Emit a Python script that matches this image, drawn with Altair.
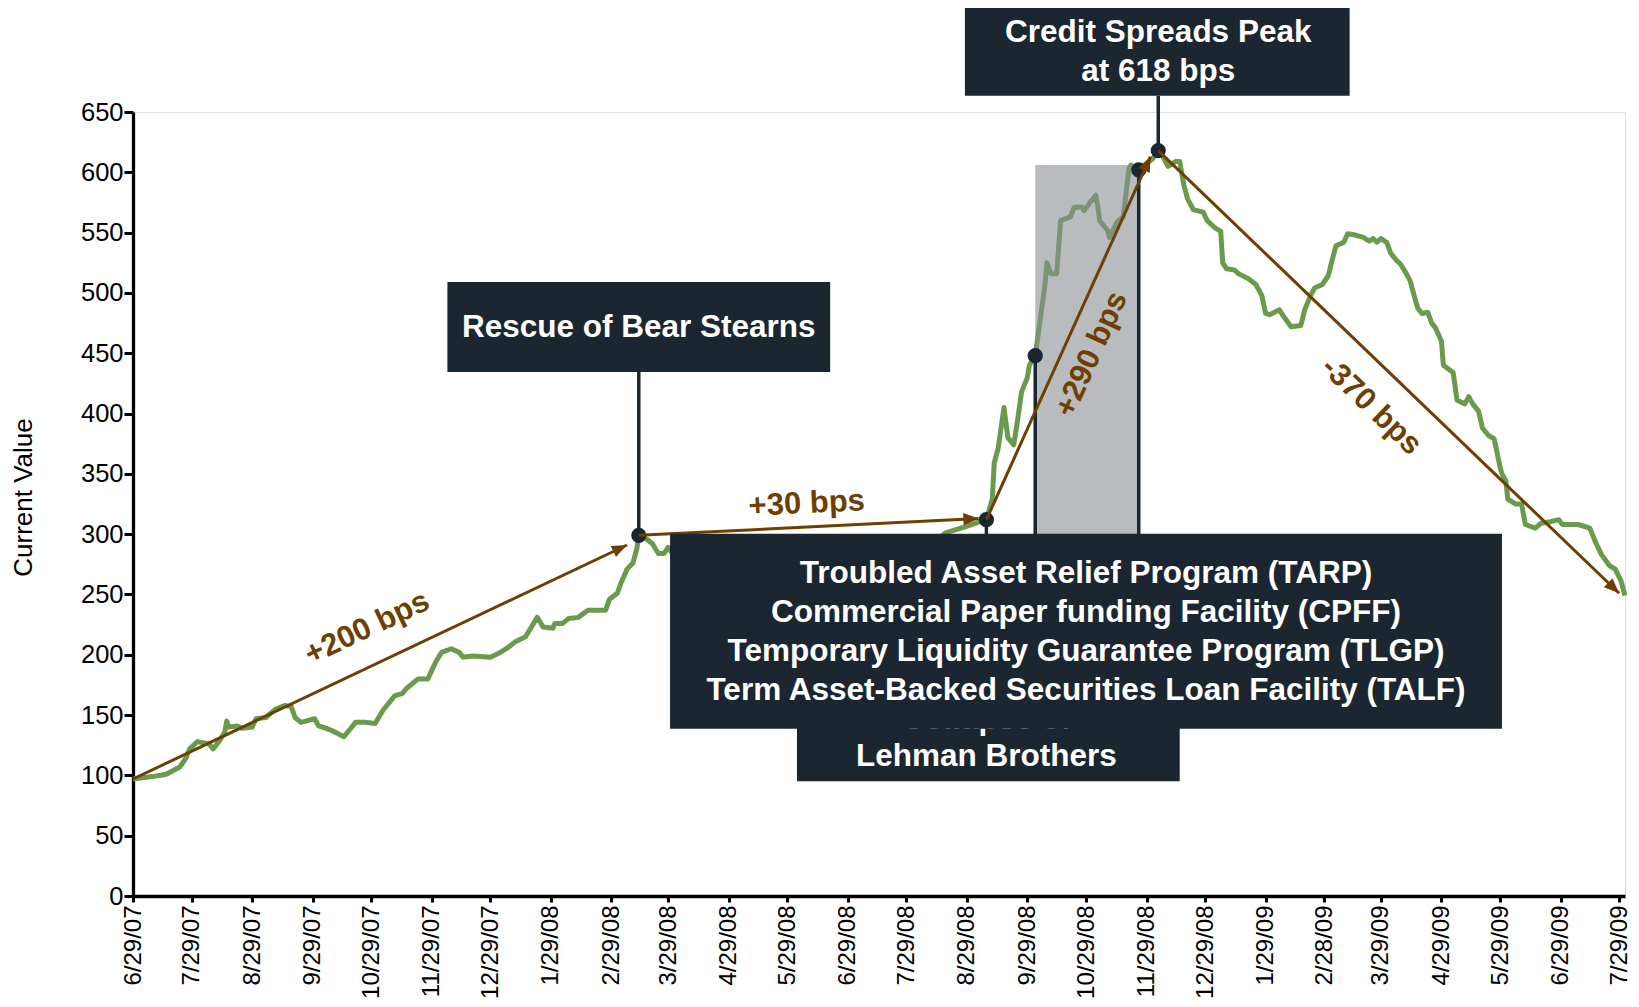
import math
import pandas as pd
import altair as alt

# ------------------------------------------------------------------ data
line_dates = [
    "2007-06-29", "2007-07-09", "2007-07-16", "2007-07-23", "2007-07-26", "2007-07-28",
    "2007-08-01", "2007-08-07", "2007-08-09", "2007-08-12", "2007-08-15", "2007-08-16",
    "2007-08-17", "2007-08-21", "2007-08-24", "2007-08-29", "2007-08-31", "2007-09-05",
    "2007-09-10", "2007-09-15", "2007-09-18", "2007-09-20", "2007-09-23", "2007-09-30",
    "2007-10-02", "2007-10-06", "2007-10-09", "2007-10-15", "2007-10-21", "2007-10-26",
    "2007-10-31", "2007-11-04", "2007-11-08", "2007-11-10", "2007-11-14", "2007-11-16",
    "2007-11-22", "2007-11-27", "2007-12-01", "2007-12-04", "2007-12-09", "2007-12-13",
    "2007-12-15", "2007-12-20", "2007-12-29", "2008-01-02", "2008-01-07", "2008-01-11",
    "2008-01-16", "2008-01-22", "2008-01-25", "2008-01-30", "2008-01-31", "2008-02-04",
    "2008-02-07", "2008-02-12", "2008-02-17", "2008-02-26", "2008-02-28", "2008-03-03",
    "2008-03-05", "2008-03-08", "2008-03-11", "2008-03-13", "2008-03-14", "2008-03-18",
    "2008-03-21", "2008-03-24", "2008-03-27", "2008-03-29", "2008-04-02", "2008-04-08",
    "2008-04-15", "2008-04-22", "2008-04-30", "2008-05-07", "2008-05-14", "2008-05-21",
    "2008-05-28", "2008-06-04", "2008-06-11", "2008-06-18", "2008-06-25", "2008-07-02",
    "2008-07-09", "2008-07-16", "2008-07-23", "2008-07-30", "2008-08-06", "2008-08-13",
    "2008-08-18", "2008-08-28", "2008-09-04", "2008-09-08", "2008-09-11", "2008-09-12",
    "2008-09-14", "2008-09-17", "2008-09-19", "2008-09-22", "2008-09-24", "2008-09-26",
    "2008-09-29", "2008-09-30", "2008-10-03", "2008-10-06", "2008-10-08", "2008-10-09",
    "2008-10-11", "2008-10-14", "2008-10-16", "2008-10-21", "2008-10-23", "2008-10-27",
    "2008-10-28", "2008-10-31", "2008-11-03", "2008-11-04", "2008-11-05", "2008-11-09",
    "2008-11-10", "2008-11-14", "2008-11-17", "2008-11-20", "2008-11-21", "2008-11-24",
    "2008-11-25", "2008-11-28", "2008-12-02", "2008-12-05", "2008-12-07", "2008-12-10",
    "2008-12-14", "2008-12-16", "2008-12-18", "2008-12-20", "2008-12-23", "2008-12-28",
    "2008-12-30", "2009-01-03", "2009-01-06", "2009-01-07", "2009-01-09", "2009-01-13",
    "2009-01-15", "2009-01-20", "2009-01-24", "2009-01-27", "2009-01-29", "2009-01-31",
    "2009-02-05", "2009-02-07", "2009-02-11", "2009-02-16", "2009-02-18", "2009-02-21",
    "2009-02-23", "2009-02-27", "2009-03-02", "2009-03-04", "2009-03-06", "2009-03-10",
    "2009-03-12", "2009-03-16", "2009-03-20", "2009-03-23", "2009-03-25", "2009-03-27",
    "2009-03-29", "2009-04-01", "2009-04-03", "2009-04-06", "2009-04-08", "2009-04-11",
    "2009-04-13", "2009-04-16", "2009-04-17", "2009-04-19", "2009-04-22", "2009-04-24",
    "2009-04-26", "2009-04-29", "2009-04-30", "2009-05-05", "2009-05-07", "2009-05-11",
    "2009-05-13", "2009-05-15", "2009-05-18", "2009-05-20", "2009-05-23", "2009-05-26",
    "2009-05-29", "2009-05-30", "2009-06-01", "2009-06-02", "2009-06-06", "2009-06-09",
    "2009-06-11", "2009-06-16", "2009-06-19", "2009-06-23", "2009-06-28", "2009-06-30",
    "2009-07-08", "2009-07-14", "2009-07-17", "2009-07-20", "2009-07-24", "2009-07-27",
    "2009-07-30", "2009-08-01",
]
line_values = [
    97, 99, 101, 107, 114, 122,
    128, 126, 122, 128, 136, 145,
    140, 141, 139, 140, 147, 148,
    155, 158, 157, 148, 144, 147,
    141, 139, 137, 132, 144, 144,
    143, 154, 162, 166, 168, 172,
    180, 180, 194, 202, 205, 202,
    198, 199, 198, 201, 206, 211,
    215, 231, 223, 222, 226, 226,
    230, 231, 237, 237, 246, 251,
    260, 271, 276, 288, 299, 296,
    292, 284, 284, 289, 280, 272,
    262, 255, 248, 240, 236, 238,
    245, 250, 258, 265, 274, 282,
    290, 292, 286, 283, 288, 294,
    301, 306, 310, 312, 329, 359,
    371, 405, 380, 374, 395, 418,
    430, 440, 448, 483, 507, 525,
    516, 516, 560, 563, 571, 571,
    568, 575, 581, 572, 560, 552,
    546, 559, 563, 603, 606, 603,
    602, 606, 611, 618, 614, 605,
    609, 609, 590, 578, 569, 567,
    560, 554, 551, 525, 520, 519,
    516, 512, 507, 498, 483, 482,
    486, 481, 472, 473, 486, 498,
    504, 507, 514, 527, 539, 542,
    549, 548, 546, 543, 545, 542,
    545, 542, 533, 527, 524, 516,
    510, 492, 487, 483, 484, 475,
    471, 460, 440, 434, 411, 408,
    414, 408, 402, 388, 382, 379,
    356, 350, 344, 329, 325, 325,
    308, 305, 309, 310, 312, 308,
    308, 305, 293, 283, 274, 271,
    261, 249,
]

x_tick_dates = [
    "2007-06-29", "2007-07-29", "2007-08-29", "2007-09-29", "2007-10-29", "2007-11-29",
    "2007-12-29", "2008-01-29", "2008-02-29", "2008-03-29", "2008-04-29", "2008-05-29",
    "2008-06-29", "2008-07-29", "2008-08-29", "2008-09-29", "2008-10-29", "2008-11-29",
    "2008-12-29", "2009-01-29", "2009-02-28", "2009-03-29", "2009-04-29", "2009-05-29",
    "2009-06-29", "2009-07-29",
]
y_tick_values = [0, 50, 100, 150, 200, 250, 300, 350, 400, 450, 500, 550, 600, 650]
x_domain = ["2007-06-29", "2009-08-01"]
y_domain = [0, 650]

# event markers (dots) and their connector lines to the boxes
event_dates = ["2008-03-14", "2008-09-08", "2008-10-03", "2008-11-25", "2008-12-05"]
event_values = [299, 312, 448, 602, 618]
connector_ends = [434.5, 170, 300, 300, 663.4]

# shaded policy window
shade_start = ["2008-10-03"]
shade_end = ["2008-11-25"]
shade_top = [606]
shade_bottom = [300]

# arrows
arrow_start_dates = ["2007-06-29", "2008-03-14", "2008-09-08", "2008-12-05"]
arrow_start_values = [97, 299, 312, 618]
arrow_end_dates = ["2008-03-08", "2008-09-04", "2008-12-01", "2009-07-29"]
arrow_end_values = [291, 313, 613, 251]
arrow_labels = ["+200 bps", "+30 bps", "+290 bps", "-370 bps"]
arrow_label_dates = ["2007-10-27", "2008-06-08", "2008-11-01", "2009-03-24"]
arrow_label_values = [222, 325, 449, 406]

# annotation boxes: Bear Stearns, Peak, Lehman (drawn first), then TARP box on top
box_left = ["2007-12-07", "2008-08-28", "2008-06-03"]
box_right = ["2008-06-20", "2009-03-13", "2008-12-16"]
box_top = [509, 738, 170]
box_bottom = [434.5, 663.4, 95.2]
box_lines = ["Rescue of Bear Stearns", "Credit Spreads Peak", "at 618 bps",
             "Collapse of", "Lehman Brothers"]
box_line_dates = ["2008-03-14", "2008-12-05", "2008-12-05", "2008-09-08", "2008-09-08"]
box_line_values = [471, 715.7, 683.4, 145.9, 115.2]

tarp_left = ["2008-03-30"]
tarp_right = ["2009-05-30"]
tarp_top = [300.4]
tarp_bottom = [138.7]
tarp_lines = [
    "Troubled Asset Relief Program (TARP)",
    "Commercial Paper funding Facility (CPFF)",
    "Temporary Liquidity Guarantee Program (TLGP)",
    "Term Asset-Backed Securities Loan Facility (TALF)",
]
tarp_line_dates = ["2008-10-29"] * 4
tarp_line_values = [266.8, 234.4, 202.3, 170.2]

# ------------------------------------------------------------------ style
W, H = 1492, 784
FONT = "Liberation Sans"
BOX = "#1c2631"
GREEN = "#6a9a4b"
BROWN = "#6e3f00"
GRAY = "#8a8f94"

d = pd.to_datetime
days_total = (d(x_domain[1]) - d(x_domain[0])).days
ppd = W / days_total
ppv = H / (y_domain[1] - y_domain[0])


def screen_angle(d1, v1, d2, v2):
    dx = (d(d2) - d(d1)).days * ppd
    dy = -(v2 - v1) * ppv
    return math.degrees(math.atan2(dy, dx)) % 360


def dt(s):
    t = d(s)
    return alt.DateTime(year=t.year, month=t.month, date=t.day)


xscale = alt.Scale(domain=[dt(x_domain[0]), dt(x_domain[1])], nice=False)
yscale = alt.Scale(domain=y_domain, nice=False, zero=False)
xaxis = alt.Axis(
    values=[dt(s) for s in x_tick_dates], format="%-m/%-d/%y", formatType="time",
    labelAngle=270, labelFontSize=24, labelFont=FONT, labelColor="black",
    labelPadding=3, labelOverlap=False, labelFlush=False, tickSize=6, tickWidth=3,
    tickColor="black", domainColor="black", domainWidth=3.3, grid=False, title=None,
)
yaxis = alt.Axis(
    values=y_tick_values, labelFontSize=25.5, labelFont=FONT, labelColor="black",
    labelPadding=1, tickSize=9, tickWidth=3, tickColor="black", domainColor="black",
    domainWidth=3.3, grid=False, title="Current Value", titleFont=FONT,
    titleFontSize=26, titleFontWeight="normal", titleColor="black", titleAngle=270,
    titleAlign="center", titleBaseline="middle", titleX=-110, titleY=385,
)


def X(field):
    return alt.X(f"{field}:T", scale=xscale, axis=xaxis)


def Y(field):
    return alt.Y(f"{field}:Q", scale=yscale, axis=yaxis)


# ------------------------------------------------------------------ tables
line_df = pd.DataFrame({"date": d(line_dates), "value": line_values})
events_df = pd.DataFrame({"date": d(event_dates), "value": event_values,
                          "end": connector_ends})
shade_df = pd.DataFrame({"start": d(shade_start), "stop": d(shade_end),
                         "top": shade_top, "bottom": shade_bottom})
arrows_df = pd.DataFrame({
    "d1": d(arrow_start_dates), "v1": arrow_start_values,
    "d2": d(arrow_end_dates), "v2": arrow_end_values,
    "angle": [screen_angle(a, b, c, e) for a, b, c, e in
              zip(arrow_start_dates, arrow_start_values, arrow_end_dates, arrow_end_values)],
})
labels_df = pd.DataFrame({
    "date": d(arrow_label_dates), "value": arrow_label_values, "text": arrow_labels,
    "angle": arrows_df["angle"].tolist(),
})
boxes_df = pd.DataFrame({"left": d(box_left), "right": d(box_right),
                         "top": box_top, "bottom": box_bottom})
box_text_df = pd.DataFrame({"date": d(box_line_dates), "value": box_line_values,
                            "text": box_lines})
tarp_df = pd.DataFrame({"left": d(tarp_left), "right": d(tarp_right),
                        "top": tarp_top, "bottom": tarp_bottom})
tarp_text_df = pd.DataFrame({"date": d(tarp_line_dates), "value": tarp_line_values,
                             "text": tarp_lines})

# ------------------------------------------------------------------ layers
line = alt.Chart(line_df).mark_line(color=GREEN, strokeWidth=5, strokeJoin="round").encode(
    x=X("date"), y=Y("value"))

shade = alt.Chart(shade_df).mark_rect(color=GRAY, opacity=0.6).encode(
    x=X("start"), x2="stop", y=Y("top"), y2="bottom")

connectors = alt.Chart(events_df).mark_rule(color=BOX, strokeWidth=3.5).encode(
    x=X("date"), y=Y("value"), y2="end")

dots = alt.Chart(events_df).mark_circle(color=BOX, size=230, opacity=1).encode(
    x=X("date"), y=Y("value"))

arrow_lines = alt.Chart(arrows_df).mark_rule(color=BROWN, strokeWidth=3).encode(
    x=X("d1"), y=Y("v1"), x2="d2", y2="v2")

arrow_heads = alt.Chart(arrows_df).mark_point(
    shape="M0,0L-1.6,-0.65L-1.6,0.65Z", filled=True, color=BROWN, size=361,
    opacity=1, strokeWidth=0,
).encode(x=X("d2"), y=Y("v2"), angle=alt.Angle("angle:Q", scale=None))

boxes = alt.Chart(boxes_df).mark_rect(color=BOX).encode(
    x=X("left"), x2="right", y=Y("top"), y2="bottom")

box_text = alt.Chart(box_text_df).mark_text(
    font=FONT, fontSize=31.5, fontWeight="bold", color="white",
    align="center", baseline="middle",
).encode(x=X("date"), y=Y("value"), text="text:N")

tarp_box = alt.Chart(tarp_df).mark_rect(color=BOX).encode(
    x=X("left"), x2="right", y=Y("top"), y2="bottom")

tarp_text = alt.Chart(tarp_text_df).mark_text(
    font=FONT, fontSize=31.5, fontWeight="bold", color="white",
    align="center", baseline="middle",
).encode(x=X("date"), y=Y("value"), text="text:N")

arrow_text = alt.Chart(labels_df).mark_text(
    font=FONT, fontSize=31, fontWeight="bold", color=BROWN,
    align="center", baseline="middle",
).encode(x=X("date"), y=Y("value"), text="text:N",
         angle=alt.Angle("angle:Q", scale=None))

chart = alt.layer(
    line, shade, connectors, dots, arrow_lines, arrow_heads,
    boxes, box_text, tarp_box, tarp_text, arrow_text,
).properties(
    width=W, height=H,
    padding={"left": 125, "top": 104, "right": 6, "bottom": 103},
    autosize=alt.AutoSizeParams(type="none"),
).configure_view(stroke=None).configure(font=FONT, background="white")

chart.save("out.html", embed_options={"renderer": "svg", "actions": False})
